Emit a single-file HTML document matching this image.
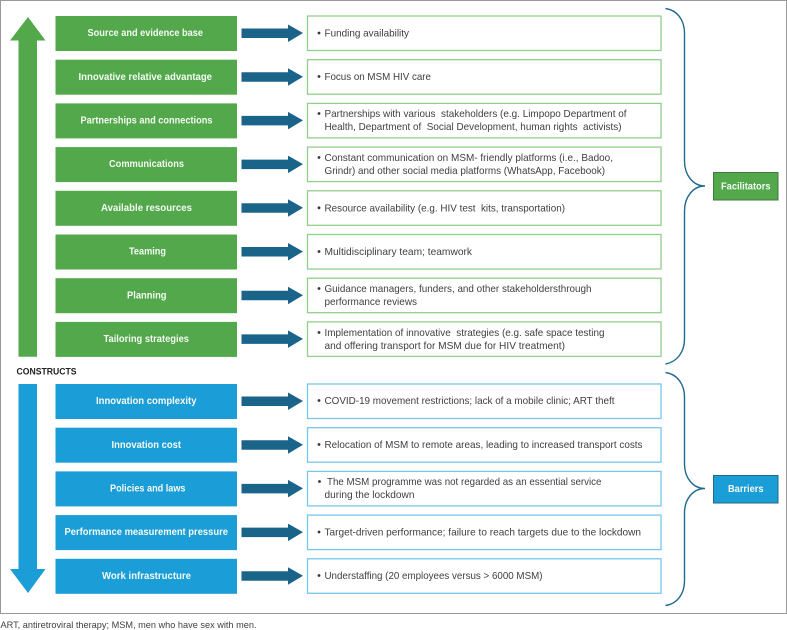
<!DOCTYPE html>
<html lang="en">
<head>
<meta charset="utf-8">
<title>Constructs diagram</title>
<style>
html,body{margin:0;padding:0;background:#fff;width:787px;height:630px;overflow:hidden}
svg{display:block}
text{font-family:"Liberation Sans",sans-serif}
.h{font-size:10.5px;font-weight:bold;fill:#f4faf4;text-anchor:start}
.t{font-size:10.5px;fill:#404040}
.b{fill:#333}
.g{fill:#52a84a}
.u{fill:#1b9dd8}
.rg{fill:#fff;stroke:#93cf8c;stroke-width:1.3}
.ru{fill:#fff;stroke:#78c6ea;stroke-width:1.3}
.a{fill:#1a6389}
.br{fill:none;stroke:#1f6a8f;stroke-width:1.4}
</style>
</head>
<body>
<svg width="787" height="630" viewBox="0 0 787 630" xmlns="http://www.w3.org/2000/svg">
<rect x="0.5" y="0.5" width="786" height="613" fill="#fff" stroke="#999" stroke-width="1"/>

<!-- big arrows -->
<polygon class="g" points="28,17 45.5,40.5 37,40.5 37,356.7 18.5,356.7 18.5,40.5 10,40.5"/>
<polygon class="u" points="18.5,384 37,384 37,569 45.5,569 28,593 10,569 18.5,569"/>

<!-- left boxes -->
<rect class="g" x="55.5" y="16" width="181.5" height="35"/>
<rect class="g" x="55.5" y="59.7" width="181.5" height="35"/>
<rect class="g" x="55.5" y="103.4" width="181.5" height="35"/>
<rect class="g" x="55.5" y="147.1" width="181.5" height="35"/>
<rect class="g" x="55.5" y="190.8" width="181.5" height="35"/>
<rect class="g" x="55.5" y="234.5" width="181.5" height="35"/>
<rect class="g" x="55.5" y="278.2" width="181.5" height="35"/>
<rect class="g" x="55.5" y="321.9" width="181.5" height="35"/>
<rect class="u" x="55.5" y="384" width="181.5" height="35"/>
<rect class="u" x="55.5" y="427.7" width="181.5" height="35"/>
<rect class="u" x="55.5" y="471.4" width="181.5" height="35"/>
<rect class="u" x="55.5" y="515.1" width="181.5" height="35"/>
<rect class="u" x="55.5" y="558.8" width="181.5" height="35"/>

<text class="h" x="87.5" y="36" textLength="115.5" lengthAdjust="spacingAndGlyphs">Source and evidence base</text>
<text class="h" x="78.5" y="80" textLength="133.5" lengthAdjust="spacingAndGlyphs">Innovative relative advantage</text>
<text class="h" x="80.5" y="123.5" textLength="132" lengthAdjust="spacingAndGlyphs">Partnerships and connections</text>
<text class="h" x="109" y="167" textLength="75" lengthAdjust="spacingAndGlyphs">Communications</text>
<text class="h" x="101" y="211" textLength="91" lengthAdjust="spacingAndGlyphs">Available resources</text>
<text class="h" x="129" y="254.5" textLength="37" lengthAdjust="spacingAndGlyphs">Teaming</text>
<text class="h" x="127" y="298.5" textLength="39.5" lengthAdjust="spacingAndGlyphs">Planning</text>
<text class="h" x="103.5" y="342" textLength="85.5" lengthAdjust="spacingAndGlyphs">Tailoring strategies</text>
<text class="h" x="96" y="404" textLength="100.5" lengthAdjust="spacingAndGlyphs">Innovation complexity</text>
<text class="h" x="111.5" y="448" textLength="69.5" lengthAdjust="spacingAndGlyphs">Innovation cost</text>
<text class="h" x="110" y="491.5" textLength="75.5" lengthAdjust="spacingAndGlyphs">Policies and laws</text>
<text class="h" x="64.5" y="535" textLength="163.5" lengthAdjust="spacingAndGlyphs">Performance measurement pressure</text>
<text class="h" x="102" y="579" textLength="89" lengthAdjust="spacingAndGlyphs">Work infrastructure</text>

<text x="16.5" y="374.5" font-size="9.5" font-weight="bold" fill="#222" textLength="60" lengthAdjust="spacingAndGlyphs">CONSTRUCTS</text>

<!-- connector arrows -->
<polygon class="a" points="241.5,28.5 288,28.5 288,24.5 303,33 288,42 288,38 241.5,38"/>
<polygon class="a" points="241.5,72.2 288,72.2 288,68.2 303,76.7 288,85.7 288,81.7 241.5,81.7"/>
<polygon class="a" points="241.5,115.9 288,115.9 288,111.9 303,120.4 288,129.4 288,125.4 241.5,125.4"/>
<polygon class="a" points="241.5,159.6 288,159.6 288,155.6 303,164.1 288,173.1 288,169.1 241.5,169.1"/>
<polygon class="a" points="241.5,203.3 288,203.3 288,199.3 303,207.8 288,216.8 288,212.8 241.5,212.8"/>
<polygon class="a" points="241.5,247 288,247 288,243 303,251.5 288,260.5 288,256.5 241.5,256.5"/>
<polygon class="a" points="241.5,290.7 288,290.7 288,286.7 303,295.2 288,304.2 288,300.2 241.5,300.2"/>
<polygon class="a" points="241.5,334.4 288,334.4 288,330.4 303,338.9 288,347.9 288,343.9 241.5,343.9"/>
<polygon class="a" points="241.5,396.5 288,396.5 288,392.5 303,401 288,410 288,406 241.5,406"/>
<polygon class="a" points="241.5,440.2 288,440.2 288,436.2 303,444.7 288,453.7 288,449.7 241.5,449.7"/>
<polygon class="a" points="241.5,483.9 288,483.9 288,479.9 303,488.4 288,497.4 288,493.4 241.5,493.4"/>
<polygon class="a" points="241.5,527.6 288,527.6 288,523.6 303,532.1 288,541.1 288,537.1 241.5,537.1"/>
<polygon class="a" points="241.5,571.3 288,571.3 288,567.3 303,575.8 288,584.8 288,580.8 241.5,580.8"/>

<!-- right boxes -->
<rect class="rg" x="307.5" y="16" width="353.5" height="34.5"/>
<rect class="rg" x="307.5" y="59.7" width="353.5" height="34.5"/>
<rect class="rg" x="307.5" y="103.4" width="353.5" height="34.5"/>
<rect class="rg" x="307.5" y="147.1" width="353.5" height="34.5"/>
<rect class="rg" x="307.5" y="190.8" width="353.5" height="34.5"/>
<rect class="rg" x="307.5" y="234.5" width="353.5" height="34.5"/>
<rect class="rg" x="307.5" y="278.2" width="353.5" height="34.5"/>
<rect class="rg" x="307.5" y="321.9" width="353.5" height="34.5"/>
<rect class="ru" x="307.5" y="384" width="353.5" height="34.5"/>
<rect class="ru" x="307.5" y="427.7" width="353.5" height="34.5"/>
<rect class="ru" x="307.5" y="471.4" width="353.5" height="34.5"/>
<rect class="ru" x="307.5" y="515.1" width="353.5" height="34.5"/>
<rect class="ru" x="307.5" y="558.8" width="353.5" height="34.5"/>

<!-- bullets -->
<circle class="b" cx="319" cy="33" r="1.4"/>
<circle class="b" cx="319" cy="76.5" r="1.4"/>
<circle class="b" cx="319" cy="113.5" r="1.4"/>
<circle class="b" cx="319" cy="157.5" r="1.4"/>
<circle class="b" cx="319" cy="207.8" r="1.4"/>
<circle class="b" cx="319" cy="251.5" r="1.4"/>
<circle class="b" cx="319" cy="288.5" r="1.4"/>
<circle class="b" cx="319" cy="332.5" r="1.4"/>
<circle class="b" cx="319" cy="400.5" r="1.4"/>
<circle class="b" cx="319" cy="444.5" r="1.4"/>
<circle class="b" cx="319.5" cy="481.5" r="1.4"/>
<circle class="b" cx="319" cy="532" r="1.4"/>
<circle class="b" cx="319" cy="575.5" r="1.4"/>

<!-- right text -->
<text class="t" x="324.5" y="36.5" textLength="84.5" lengthAdjust="spacingAndGlyphs">Funding availability</text>
<text class="t" x="324.5" y="80" textLength="106.5" lengthAdjust="spacingAndGlyphs">Focus on MSM HIV care</text>
<text class="t" x="324.5" y="117" textLength="302" lengthAdjust="spacingAndGlyphs" xml:space="preserve">Partnerships with various  stakeholders (e.g. Limpopo Department of</text>
<text class="t" x="324.5" y="130" textLength="297" lengthAdjust="spacingAndGlyphs" xml:space="preserve">Health, Department of  Social Development, human rights  activists)</text>
<text class="t" x="324.5" y="161" textLength="288.5" lengthAdjust="spacingAndGlyphs">Constant communication on MSM- friendly platforms (i.e., Badoo,</text>
<text class="t" x="324.5" y="174" textLength="280.5" lengthAdjust="spacingAndGlyphs">Grindr) and other social media platforms (WhatsApp, Facebook)</text>
<text class="t" x="324.5" y="211.5" textLength="240.5" lengthAdjust="spacingAndGlyphs" xml:space="preserve">Resource availability (e.g. HIV test  kits, transportation)</text>
<text class="t" x="324.5" y="255" textLength="147.5" lengthAdjust="spacingAndGlyphs">Multidisciplinary team; teamwork</text>
<text class="t" x="324.5" y="292" textLength="267" lengthAdjust="spacingAndGlyphs">Guidance managers, funders, and other stakeholdersthrough</text>
<text class="t" x="324.5" y="305" textLength="92.5" lengthAdjust="spacingAndGlyphs">performance reviews</text>
<text class="t" x="324.5" y="336" textLength="280" lengthAdjust="spacingAndGlyphs" xml:space="preserve">Implementation of innovative  strategies (e.g. safe space testing</text>
<text class="t" x="324.5" y="349" textLength="240.5" lengthAdjust="spacingAndGlyphs">and offering transport for MSM due for HIV treatment)</text>
<text class="t" x="324.5" y="404" textLength="290" lengthAdjust="spacingAndGlyphs">COVID-19 movement restrictions; lack of a mobile clinic; ART theft</text>
<text class="t" x="324.5" y="448" textLength="318" lengthAdjust="spacingAndGlyphs">Relocation of MSM to remote areas, leading to increased transport costs</text>
<text class="t" x="327" y="485" textLength="274.5" lengthAdjust="spacingAndGlyphs">The MSM programme was not regarded as an essential service</text>
<text class="t" x="324.5" y="498" textLength="90" lengthAdjust="spacingAndGlyphs">during the lockdown</text>
<text class="t" x="324.5" y="535.5" textLength="316.5" lengthAdjust="spacingAndGlyphs">Target-driven performance; failure to reach targets due to the lockdown</text>
<text class="t" x="324.5" y="579" textLength="218" lengthAdjust="spacingAndGlyphs">Understaffing (20 employees versus &gt; 6000 MSM)</text>

<!-- braces -->
<path class="br" d="M665.5,8.5 C677,10 684.5,20 684.5,33 L684.5,161 C684.5,175 693,186 705,186 C693,186 684.5,197 684.5,211 L684.5,339 C684.5,352 677,362 665.5,364"/>
<path class="br" d="M665.5,372.5 C677,374 684.5,384 684.5,397 L684.5,464 C684.5,478 693,488.5 705,488.5 C693,488.5 684.5,499 684.5,513 L684.5,581 C684.5,594 677,604 665.5,605.5"/>

<!-- category boxes -->
<rect x="713.5" y="172.5" width="64.5" height="27.5" fill="#52a84a" stroke="#3f7a3f" stroke-width="1"/>
<text class="h" x="721" y="189.5" textLength="49.5" lengthAdjust="spacingAndGlyphs">Facilitators</text>
<rect x="713.5" y="475.5" width="64.5" height="27.5" fill="#1b9dd8" stroke="#1f6a80" stroke-width="1"/>
<text class="h" x="728" y="492" textLength="35.5" lengthAdjust="spacingAndGlyphs">Barriers</text>

<!-- footnote -->
<text x="0.5" y="628" font-size="9.5" fill="#404040" textLength="256" lengthAdjust="spacingAndGlyphs">ART, antiretroviral therapy; MSM, men who have sex with men.</text>
</svg>
</body>
</html>
